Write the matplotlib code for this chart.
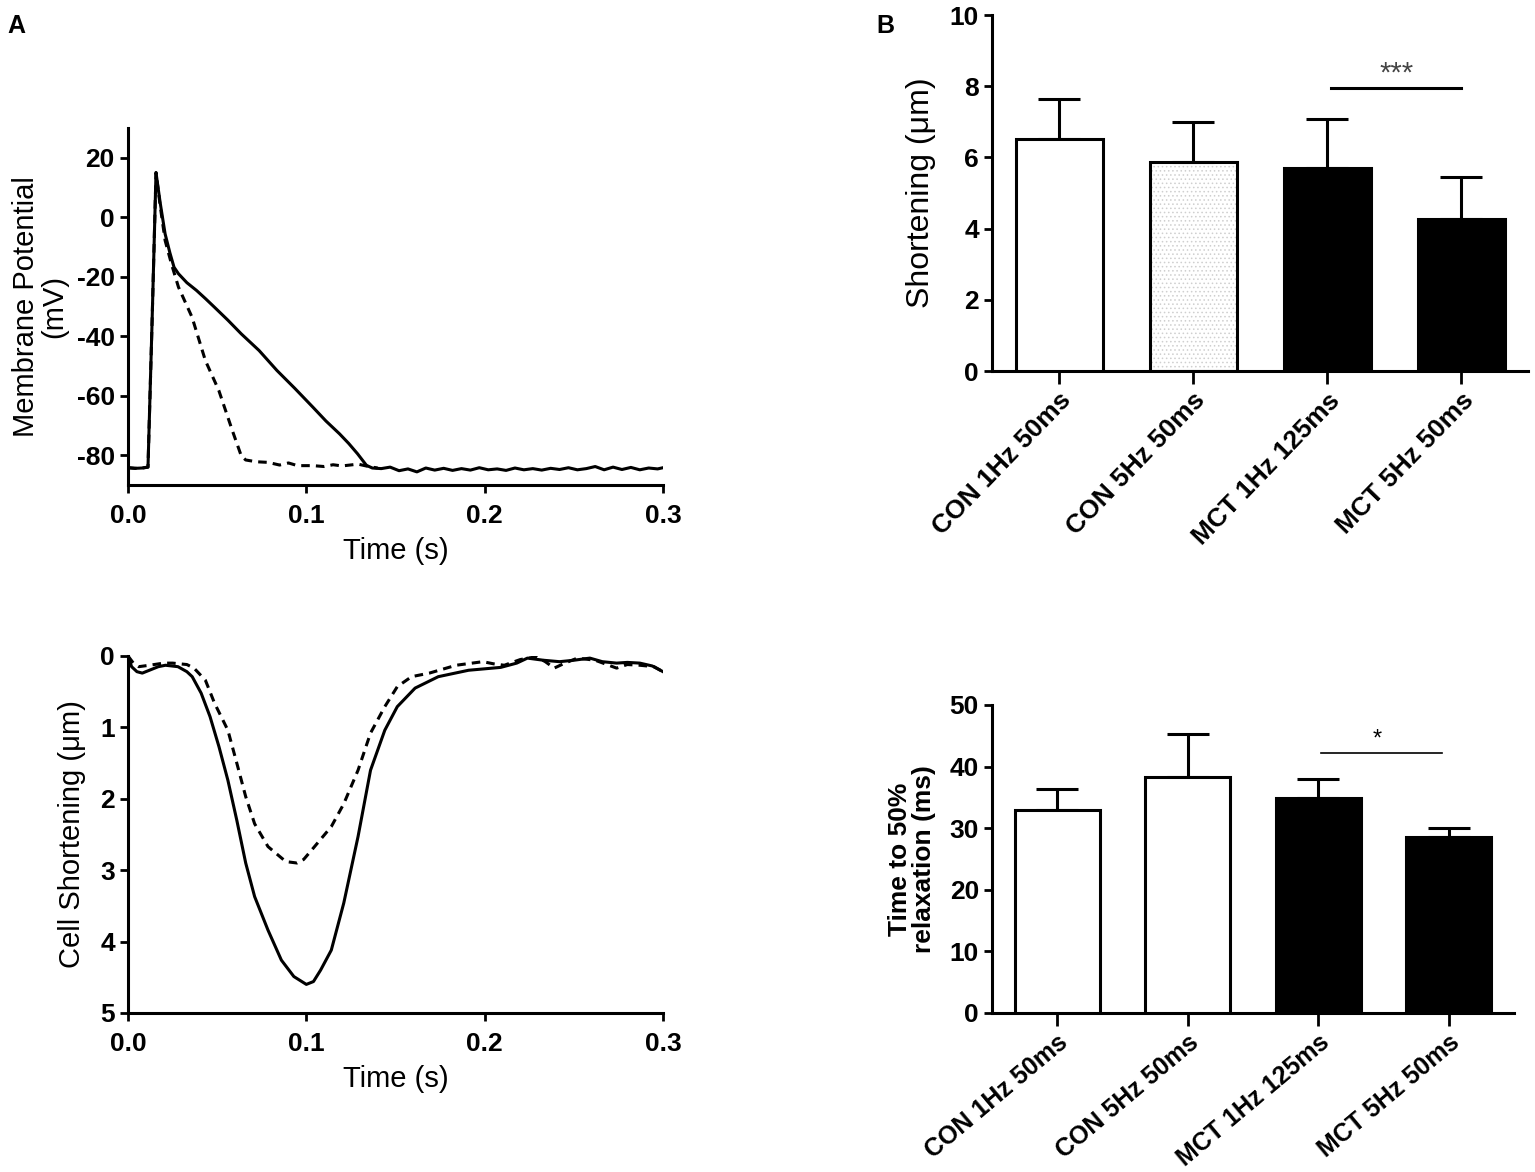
import numpy as np
import matplotlib
matplotlib.use("Agg")
import matplotlib.pyplot as plt

plt.rcParams['font.family'] = ['Liberation Sans', 'DejaVu Sans']
plt.rcParams['hatch.linewidth'] = 0.6
plt.rcParams['axes.unicode_minus'] = False

# --- panel A, action potential traces (time s, mV) ---
ap_t = [0, 0.004, 0.008, 0.0112, 0.0135, 0.0157, 0.018, 0.0208, 0.0235, 0.0258, 0.0283,
        0.033, 0.0384, 0.0435, 0.0484, 0.056, 0.0635, 0.0735, 0.0835, 0.0935, 0.1036,
        0.111, 0.1186, 0.1237, 0.1287, 0.1337, 0.137,
        0.142, 0.147, 0.152, 0.157, 0.162, 0.167, 0.172, 0.177, 0.182, 0.187, 0.192,
        0.197, 0.202, 0.207, 0.212, 0.217, 0.222, 0.227, 0.232, 0.237, 0.242, 0.247,
        0.252, 0.257, 0.262, 0.267, 0.272, 0.277, 0.282, 0.287, 0.292, 0.297, 0.3]
ap_v = [-84.2, -84.4, -84.3, -84.0, -35, 15, 5, -5.6, -12, -16.8, -19.0,
        -22, -24.6, -27.4, -30.2, -34.6, -39.2, -44.8, -51.5, -57.5, -63.8,
        -68.5, -72.8, -76, -79.5, -83.4, -84.3,
        -84.5, -84.0, -85.2, -84.6, -85.6, -84.3, -85.0, -84.4, -85.1, -84.5, -85.0,
        -84.2, -84.9, -84.6, -85.1, -84.3, -84.9, -84.5, -85.0, -84.4, -84.8, -84.2,
        -84.9, -84.5, -83.8, -84.9, -84.0, -84.8, -84.1, -84.9, -84.3, -84.6, -84.2]

ap5_t = [0, 0.004, 0.008, 0.0112, 0.0135, 0.0157, 0.018, 0.0208, 0.0245, 0.0283,
         0.0359, 0.0434, 0.0509, 0.0585, 0.0635, 0.066, 0.072, 0.0785, 0.085, 0.09,
         0.095, 0.1036, 0.11, 0.115, 0.12, 0.129, 0.135, 0.14]
ap5_v = [-84.2, -84.4, -84.3, -84.0, -35, 15, 4, -7.8, -16, -23.5,
         -33.6, -48.2, -58.2, -71.7, -80.2, -81.6, -82.2, -82.4, -83.3, -82.6,
         -83.5, -83.5, -83.8, -83.2, -83.6, -83.0, -83.8, -84.3]

# --- panel A, cell shortening traces (time s, um) ---
cs_t = [0, 0.002, 0.005, 0.008, 0.012, 0.017, 0.021, 0.028, 0.033, 0.036, 0.041, 0.046,
        0.051, 0.056, 0.061, 0.066, 0.071, 0.0785, 0.086, 0.093, 0.1, 0.104, 0.108,
        0.114, 0.121, 0.129, 0.136, 0.144, 0.151, 0.161, 0.174, 0.191, 0.209, 0.218,
        0.224, 0.233, 0.242, 0.25, 0.259, 0.266, 0.274, 0.28, 0.287, 0.294, 0.3]
cs_v = [0.0, 0.15, 0.22, 0.24, 0.2, 0.15, 0.13, 0.15, 0.22, 0.29, 0.52, 0.85,
        1.27, 1.74, 2.3, 2.9, 3.37, 3.84, 4.26, 4.49, 4.6, 4.56, 4.4,
        4.12, 3.46, 2.53, 1.6, 1.04, 0.71, 0.45, 0.29, 0.2, 0.16, 0.1,
        0.03, 0.06, 0.08, 0.06, 0.03, 0.08, 0.1, 0.09, 0.1, 0.14, 0.22]

cs5_t = [0, 0.003, 0.006, 0.012, 0.02, 0.025, 0.033, 0.037, 0.0434, 0.0485, 0.056,
         0.061, 0.066, 0.071, 0.0785, 0.0885, 0.0948, 0.0985, 0.1036, 0.114, 0.121,
         0.129, 0.136, 0.144, 0.151, 0.159, 0.169, 0.184, 0.199, 0.205, 0.211, 0.22,
         0.229, 0.234, 0.239, 0.245, 0.252, 0.262, 0.274, 0.28, 0.287, 0.295, 0.3]
cs5_v = [0.0, 0.1, 0.15, 0.13, 0.1, 0.1, 0.12, 0.17, 0.34, 0.66, 1.04,
         1.5, 1.97, 2.35, 2.67, 2.88, 2.9, 2.85, 2.7, 2.39, 2.07,
         1.6, 1.08, 0.71, 0.43, 0.29, 0.24, 0.13, 0.08, 0.11, 0.13, 0.05,
         0.01, 0.08, 0.17, 0.1, 0.03, 0.06, 0.17, 0.12, 0.13, 0.15, 0.22]

# --- panel B bars ---
groups = ["CON 1Hz 50ms", "CON 5Hz 50ms", "MCT 1Hz 125ms", "MCT 5Hz 50ms"]
short_mean = [6.52, 5.88, 5.70, 4.27]
short_sem = [1.12, 1.12, 1.38, 1.18]
relax_mean = [33.0, 38.3, 34.9, 28.5]
relax_sem = [3.3, 7.0, 3.1, 1.5]

fig = plt.figure(figsize=(15.35, 11.72), dpi=100)

LW = 2.2
tick_kw = dict(direction='out', width=2, length=6)


def style(ax):
    for s in ['top', 'right']:
        ax.spines[s].set_visible(False)
    for s in ['left', 'bottom']:
        ax.spines[s].set_linewidth(2.2)
    ax.tick_params(**tick_kw)


def bold_ticks(ax):
    for lab in ax.get_xticklabels() + ax.get_yticklabels():
        lab.set_fontweight('bold')


# A top
ax1 = fig.add_axes([0.0834, 0.5862, 0.3485, 0.3046])
ax1.plot(ap_t, ap_v, color='black', lw=LW)
ax1.plot(ap5_t, ap5_v, color='black', lw=LW, ls=(0, (2.8, 2.0)))
ax1.set_xlim(0, 0.3)
ax1.set_ylim(-90, 30)
ax1.set_yticks([20, 0, -20, -40, -60, -80])
ax1.set_xticks([0, 0.1, 0.2, 0.3])
ax1.set_xticklabels(["0.0", "0.1", "0.2", "0.3"])
style(ax1)
ax1.tick_params(labelsize=19)
ax1.tick_params(axis='x', pad=8)
bold_ticks(ax1)
ax1.set_xlabel("Time (s)", fontsize=21, labelpad=6)
ax1.set_ylabel("Membrane Potential\n(mV)", fontsize=21, labelpad=6, linespacing=1.0)

# A bottom
ax2 = fig.add_axes([0.0834, 0.1357, 0.3485, 0.3046])
ax2.plot(cs_t, cs_v, color='black', lw=LW)
ax2.plot(cs5_t, cs5_v, color='black', lw=LW, ls=(0, (2.8, 2.0)))
ax2.set_xlim(0, 0.3)
ax2.set_ylim(5, 0)
ax2.set_yticks([0, 1, 2, 3, 4, 5])
ax2.set_xticks([0, 0.1, 0.2, 0.3])
ax2.set_xticklabels(["0.0", "0.1", "0.2", "0.3"])
style(ax2)
ax2.tick_params(labelsize=19)
ax2.tick_params(axis='x', pad=8)
bold_ticks(ax2)
ax2.set_xlabel("Time (s)", fontsize=21, labelpad=6)
ax2.set_ylabel("Cell Shortening (\u03bcm)", fontsize=21, labelpad=10)

x = np.arange(len(groups))
W = 0.65

# B top
ax3 = fig.add_axes([0.6463, 0.6834, 0.3492, 0.3038])
ax3.bar(x[1], short_mean[1], W, color='white', hatch='....', edgecolor='#cfcfcf', lw=0)
faces = ['white', 'none', 'black', 'black']
for i in range(4):
    ax3.bar(x[i], short_mean[i], W, facecolor=faces[i], edgecolor='black', lw=2.2, zorder=3)
ax3.errorbar(x, short_mean, yerr=[np.zeros(4), short_sem], fmt='none', ecolor='black',
             elinewidth=2.2, capsize=15, capthick=2.2, zorder=2)
ax3.plot([2.03, 3.0], [7.95, 7.95], color='black', lw=2.2)
ax3.text(2.52, 7.95, "***", ha='center', va='bottom', fontsize=21, color='#444444')
ax3.set_xlim(-0.5, 3.5)
ax3.set_ylim(0, 10)
ax3.set_yticks([0, 2, 4, 6, 8, 10])
ax3.set_xticks(x)
style(ax3)
ax3.tick_params(axis='y', labelsize=19)
ax3.tick_params(axis='x', length=9)
ax3.set_xticklabels(groups, rotation=46, ha='right', rotation_mode='anchor',
                    fontsize=19, fontweight='bold')
bold_ticks(ax3)
ax3.set_ylabel("Shortening (\u03bcm)", fontsize=23, labelpad=10)

# B bottom
ax4 = fig.add_axes([0.6463, 0.1357, 0.3401, 0.2628])
faces4 = ['white', 'white', 'black', 'black']
for i in range(4):
    ax4.bar(x[i], relax_mean[i], W, facecolor=faces4[i], edgecolor='black', lw=2.2, zorder=3)
ax4.errorbar(x, relax_mean, yerr=[np.zeros(4), relax_sem], fmt='none', ecolor='black',
             elinewidth=2.2, capsize=15, capthick=2.2, zorder=2)
ax4.plot([2.02, 2.95], [42.2, 42.2], color='black', lw=1.2)
ax4.text(2.45, 42.6, "*", ha='center', va='bottom', fontsize=17)
ax4.set_xlim(-0.5, 3.5)
ax4.set_ylim(0, 50)
ax4.set_yticks([0, 10, 20, 30, 40, 50])
ax4.set_xticks(x)
style(ax4)
ax4.tick_params(axis='y', labelsize=19)
ax4.tick_params(axis='x', length=9)
ax4.set_xticklabels(groups, rotation=40, ha='right', rotation_mode='anchor',
                    fontsize=18, fontweight='bold')
bold_ticks(ax4)
ax4.set_ylabel("Time to 50%\nrelaxation (ms)", fontsize=19, fontweight='bold',
               labelpad=10, linespacing=1.0)

fig.text(0.005, 0.988, "A", fontsize=18, fontweight='bold', va='top')
fig.text(0.571, 0.988, "B", fontsize=18, fontweight='bold', va='top')

fig.savefig("out.png", dpi=100)
